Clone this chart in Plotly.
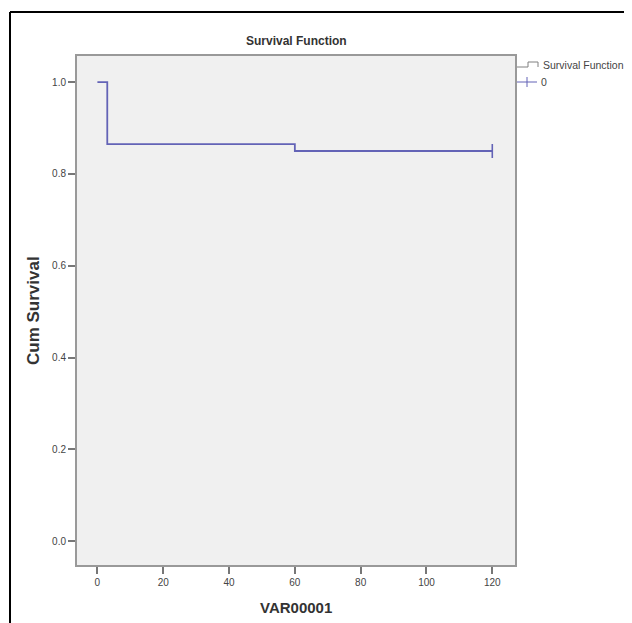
import plotly.graph_objects as go

# Data
times = [0, 3, 60, 120]
surv = [1.0, 0.865, 0.85, 0.85]
censor_times = [120]
censor_surv = [0.85]
x_ticks = [0, 20, 40, 60, 80, 100, 120]
y_ticks = [0.0, 0.2, 0.4, 0.6, 0.8, 1.0]
y_labels = ["0.0", "0.2", "0.4", "0.6", "0.8", "1.0"]
legend_names = ["Survival Function", "0"]

W, H = 632, 623
OFF = 8  # page body margin
L, T = 77 - OFF, 56 - OFF
R = W - (515 - OFF)
B = H - (565 - OFF)
pw, ph = W - L - R, H - T - B

def px(x):  # page pixel -> paper x
    return (x - OFF - L) / pw

def py(y):  # page pixel -> paper y
    return 1 - (y - OFF - T) / ph

LINE = "#6363b6"
SANS = "Liberation Sans, Arial, sans-serif"

fig = go.Figure()
fig.add_trace(go.Scatter(
    x=times, y=surv, mode="lines", line=dict(color=LINE, width=1.8, shape="hv"),
    showlegend=False, hoverinfo="skip"))
fig.add_trace(go.Scatter(
    x=censor_times, y=censor_surv, mode="markers",
    marker=dict(symbol="line-ns", size=10, line=dict(color=LINE, width=1.6)),
    showlegend=False, hoverinfo="skip"))

fig.update_layout(
    width=W, height=H,
    margin=dict(l=L, r=R, t=T, b=B),
    paper_bgcolor="white", plot_bgcolor="#f0f0f0",
    font=dict(family=SANS, size=10, color="#444"),
    showlegend=False,
    xaxis=dict(range=[-6.2, 126.9], tickvals=x_ticks, ticks="outside", ticklen=7,
               tickcolor="#777", tickwidth=1.5, showgrid=False, zeroline=False, showline=True,
               linecolor="#999", linewidth=2, mirror=True,
               tickfont=dict(family=SANS, size=10, color="#444")),
    yaxis=dict(range=[-0.052, 1.057], tickvals=y_ticks, ticktext=y_labels,
               ticks="outside", ticklen=7, tickcolor="#777", tickwidth=1.5, showgrid=False,
               zeroline=False, showline=True, linecolor="#999", linewidth=2, mirror=True,
               tickfont=dict(family=SANS, size=10, color="#444")),
)

fig.add_annotation(text="<b>Survival Function</b>", x=0.5, y=py(41), xref="paper", yref="paper",
                   showarrow=False, xanchor="center", yanchor="middle",
                   font=dict(family=SANS, size=12, color="#333"))
fig.add_annotation(text="<b>Cum Survival</b>", x=px(33), y=py(311), xref="paper", yref="paper",
                   showarrow=False, textangle=-90, xanchor="center", yanchor="middle",
                   font=dict(family=SANS, size=17, color="#333"))
fig.add_annotation(text="<b>VAR00001</b>", x=0.5, y=py(607), xref="paper", yref="paper",
                   showarrow=False, xanchor="center", yanchor="middle",
                   font=dict(family=SANS, size=15, color="#333"))

# legend (drawn manually so it can sit in the right margin)
GRAY = "#808080"
fig.add_shape(type="path", xref="paper", yref="paper",
              path=(f"M {px(517)},{py(67)} L {px(528)},{py(67)} L {px(528)},{py(62)} "
                    f"L {px(538)},{py(62)} L {px(538)},{py(67)}"),
              line=dict(color=GRAY, width=1))
fig.add_shape(type="line", xref="paper", yref="paper", x0=px(517), x1=px(537), y0=py(82), y1=py(82),
              line=dict(color=LINE, width=1))
fig.add_shape(type="line", xref="paper", yref="paper", x0=px(527), x1=px(527), y0=py(77), y1=py(87),
              line=dict(color=LINE, width=1))
fig.add_annotation(text=legend_names[0], x=px(541), y=py(65), xref="paper", yref="paper",
                   showarrow=False, xanchor="left", yanchor="middle",
                   font=dict(family=SANS, size=10.5, color="#444"))
fig.add_annotation(text=legend_names[1], x=px(539), y=py(82), xref="paper", yref="paper",
                   showarrow=False, xanchor="left", yanchor="middle",
                   font=dict(family=SANS, size=10.5, color="#444"))

# outer black frame
fig.add_shape(type="line", xref="paper", yref="paper", x0=px(10), x1=px(10), y0=py(12), y1=py(700),
              line=dict(color="black", width=2))
fig.add_shape(type="line", xref="paper", yref="paper", x0=px(10), x1=px(700), y0=py(12), y1=py(12),
              line=dict(color="black", width=2))

fig.write_html("out.html")
